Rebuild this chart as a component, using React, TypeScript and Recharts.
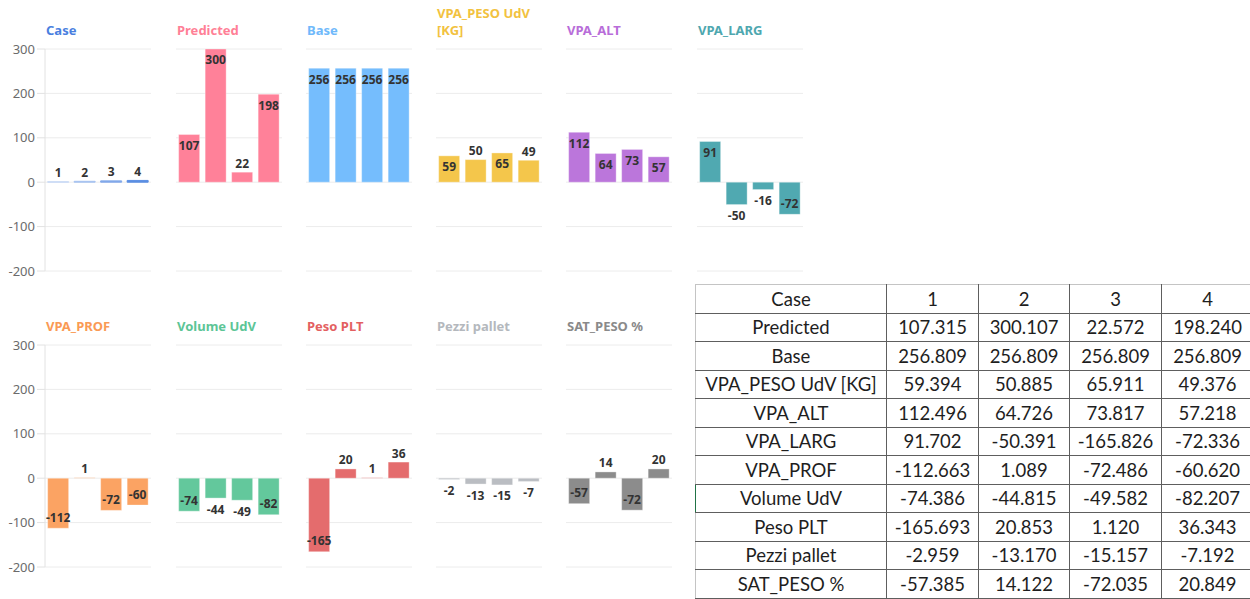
import React from 'react';
import { BarChart, Bar, XAxis, YAxis, CartesianGrid, Cell, LabelList } from 'recharts';

// ---------- data ----------
const cases = ['1', '2', '3', '4'];
const caseValues = [1, 2, 3, 4];
const predicted = [107.315, 300.107, 22.572, 198.24];
const base = [256.809, 256.809, 256.809, 256.809];
const vpaPesoUdv = [59.394, 50.885, 65.911, 49.376];
const vpaAlt = [112.496, 64.726, 73.817, 57.218];
const vpaLarg = [91.702, -50.391, -16.5826, -72.336];
const vpaProf = [-112.663, 1.089, -72.486, -60.62];
const volumeUdv = [-74.386, -44.815, -49.582, -82.207];
const pesoPlt = [-165.693, 20.853, 1.12, 36.343];
const pezziPallet = [-2.959, -13.17, -15.157, -7.192];
const satPeso = [-57.385, 14.122, -72.035, 20.849];
const tableVpaLarg = [91.702, -50.391, -165.826, -72.336];

const yTicks = [-200, -100, 0, 100, 200, 300];
const caseColors = ['#c8daf6', '#a6c2f0', '#83a9ea', '#5b8ee3'];

type PanelDef = { title: string; titleColor: string; color: string; values: number[]; cellColors?: string[] };

const topRow: PanelDef[] = [
  { title: 'Case', titleColor: '#4a7fe0', color: '#5b8ee3', values: caseValues, cellColors: caseColors },
  { title: 'Predicted', titleColor: '#ff7f96', color: '#ff8199', values: predicted },
  { title: 'Base', titleColor: '#6fb9fb', color: '#75bdfd', values: base },
  { title: 'VPA_PESO UdV [KG]', titleColor: '#f2c23f', color: '#f4c64b', values: vpaPesoUdv },
  { title: 'VPA_ALT', titleColor: '#b86dd9', color: '#bb76db', values: vpaAlt },
  { title: 'VPA_LARG', titleColor: '#4ea7af', color: '#50a9b1', values: vpaLarg },
];
const bottomRow: PanelDef[] = [
  { title: 'VPA_PROF', titleColor: '#fa9a55', color: '#fba363', values: vpaProf },
  { title: 'Volume UdV', titleColor: '#5cc596', color: '#63c89c', values: volumeUdv },
  { title: 'Peso PLT', titleColor: '#e35f61', color: '#e46c6d', values: pesoPlt },
  { title: 'Pezzi pallet', titleColor: '#b4b8bd', color: '#babdc2', values: pezziPallet },
  { title: 'SAT_PESO %', titleColor: '#8a8a8a', color: '#8c8c8c', values: satPeso },
];

const tableHeader = ['Case', ...cases];
const tableRows: [string, number[]][] = [
  ['Predicted', predicted],
  ['Base', base],
  ['VPA_PESO UdV [KG]', vpaPesoUdv],
  ['VPA_ALT', vpaAlt],
  ['VPA_LARG', tableVpaLarg],
  ['VPA_PROF', vpaProf],
  ['Volume UdV', volumeUdv],
  ['Peso PLT', pesoPlt],
  ['Pezzi pallet', pezziPallet],
  ['SAT_PESO %', satPeso],
];

// ---------- layout ----------
const plotXs = [45, 176, 306, 436, 566, 697];
const rowTops = [0, 296];
const AXIS_W = 45;
const PLOT_W = 106;
const CHART_W = AXIS_W + PLOT_W + 4;
const CHART_H = 281;
const FONT = '"Noto Sans", "Open Sans", sans-serif';

const renderLabel = (props: any) => {
  const { x, y, width, height, value } = props;
  const v = Number(value);
  const top = Math.min(y, y + height);
  const bottom = Math.max(y, y + height);
  const h = bottom - top;
  const cx = x + width / 2;
  let ty: number;
  if (v >= 0) ty = h >= 24 ? top + 11 : top - 9;
  else ty = h >= 24 ? bottom - 11 : bottom + 11;
  return (
    <text x={cx} y={ty} textAnchor="middle" dominantBaseline="central" fontSize={12} fontWeight={700} fill="#333" fontFamily={FONT}>
      {Math.trunc(v)}
    </text>
  );
};

function Panel({ def, col, row }: { def: PanelDef; col: number; row: number }) {
  const data = cases.map((c, i) => ({ case: c, v: def.values[i] }));
  const showAxis = col === 0;
  const left = plotXs[col] - AXIS_W;
  const top = rowTops[row];
  return (
    <>
      <div
        style={{
          position: 'absolute',
          left: plotXs[col] + 1,
          top: top,
          height: 39,
          width: 112,
          display: 'flex',
          alignItems: 'flex-end',
          fontFamily: FONT,
          fontWeight: 700,
          fontSize: 13,
          lineHeight: '17px',
          color: def.titleColor,
        }}
      >
        <span>{def.title}</span>
      </div>
      <div style={{ position: 'absolute', left, top, width: CHART_W, height: CHART_H }}>
        <BarChart
          width={CHART_W}
          height={CHART_H}
          data={data}
          margin={{ top: 49, right: 4, bottom: 10, left: showAxis ? 0 : AXIS_W }}
          barCategoryGap="10%"
        >
          <CartesianGrid vertical={false} stroke="#ececec" />
          <XAxis dataKey="case" hide />
          <YAxis
            hide={!showAxis}
            width={AXIS_W}
            domain={[-200, 300]}
            ticks={yTicks}
            allowDataOverflow
            axisLine={{ stroke: '#e2e2e2' }}
            tickLine={{ stroke: '#e2e2e2' }}
            tickSize={8}
            tickMargin={2}
            tick={{ fill: '#6b6b6b', fontSize: 13, fontFamily: FONT }}
          />
          <Bar dataKey="v" fill={def.color} isAnimationActive={false}>
            {data.map((_, i) => (
              <Cell
                key={i}
                fill={def.cellColors ? def.cellColors[i] : def.color}
                stroke={def.cellColors ? def.cellColors[i] : '#ffffff'}
                strokeOpacity={def.cellColors ? 1 : 0.35}
                strokeWidth={1}
              />
            ))}
            <LabelList dataKey="v" content={renderLabel} />
          </Bar>
        </BarChart>
      </div>
    </>
  );
}

const cellBase: React.CSSProperties = {
  border: '1px solid #5e5e5e',
  padding: 0,
  textAlign: 'center',
  verticalAlign: 'middle',
  whiteSpace: 'nowrap',
  overflow: 'hidden',
  boxSizing: 'border-box',
};

function DataTable() {
  const colW = [191, 92, 91, 92, 92];
  const rowH = 28.5;
  return (
    <div style={{ position: 'absolute', left: 695, top: 284, width: 555, height: 315, overflow: 'hidden' }}>
      <table
        style={{
          borderCollapse: 'collapse',
          tableLayout: 'fixed',
          width: colW.reduce((a, b) => a + b, 0),
          fontFamily: 'Lato, "Noto Sans", sans-serif',
          fontSize: 18.5,
          color: '#1e1e1e',
          lineHeight: '20px',
        }}
      >
        <colgroup>
          {colW.map((w, i) => (
            <col key={i} style={{ width: w }} />
          ))}
        </colgroup>
        <tbody>
          <tr>
            {tableHeader.map((h, i) => (
              <td
                key={i}
                style={{
                  ...cellBase,
                  height: rowH,
                  borderTop: '1px solid #c4c4c4',
                  borderLeft: i === 0 ? '1px solid #c4c4c4' : (cellBase.border as string),
                }}
              >
                {h}
              </td>
            ))}
          </tr>
          {tableRows.map(([name, vals], r) => (
            <tr key={r}>
              <td style={{ ...cellBase, height: rowH, borderLeft: name === 'Volume UdV' ? '1px solid #217346' : '1px solid #c4c4c4' }}>{name}</td>
              {vals.map((v, i) => (
                <td key={i} style={{ ...cellBase, height: rowH }}>
                  {v.toFixed(3)}
                </td>
              ))}
            </tr>
          ))}
        </tbody>
      </table>
    </div>
  );
}

export default function App() {
  return (
    <div style={{ position: 'absolute', left: 0, top: 0, width: 1250, height: 599, overflow: 'hidden', background: '#ffffff' }}>
      {topRow.map((d, i) => (
        <Panel key={'t' + i} def={d} col={i} row={0} />
      ))}
      {bottomRow.map((d, i) => (
        <Panel key={'b' + i} def={d} col={i} row={1} />
      ))}
      <DataTable />
    </div>
  );
}
